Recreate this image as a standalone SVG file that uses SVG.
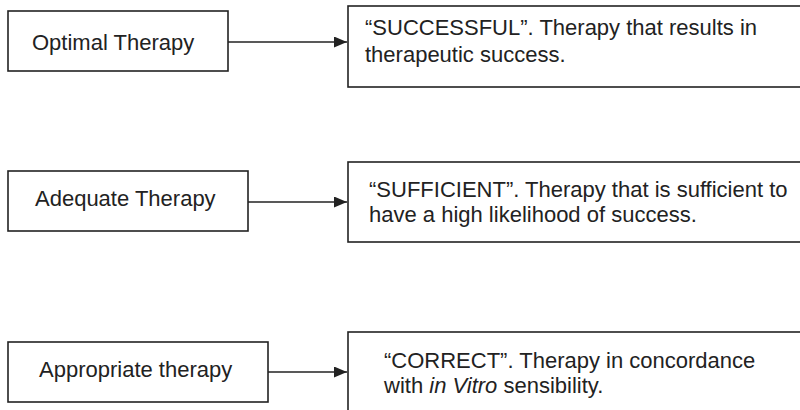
<svg xmlns="http://www.w3.org/2000/svg" width="800" height="410" viewBox="0 0 800 410">
<defs>
<style>
.box{fill:#fff;stroke:#222;stroke-width:1.6}
.t{font-family:"Liberation Sans",Arial,sans-serif;font-size:22px;fill:#222}
.c{stroke:#222;stroke-width:1.6;fill:none}
</style>
<marker id="ah" viewBox="0 0 13 11" refX="13" refY="5.5" markerWidth="13" markerHeight="11" markerUnits="userSpaceOnUse" orient="auto">
<path d="M0,0 L13,5.5 L0,11 z" fill="#222"/>
</marker>
</defs>
<rect width="800" height="410" fill="#fff"/>
<g id="optimal"><rect class="box" x="8" y="11" width="220" height="60"/><text class="t" x="32" y="50">Optimal Therapy</text></g>
<g id="successful"><rect class="box" x="348" y="6" width="470" height="81"/><text class="t" x="365" y="35">“SUCCESSFUL”. Therapy that results in</text><text class="t" x="365" y="62">therapeutic success.</text></g>
<g id="adequate"><rect class="box" x="8" y="171" width="240" height="60"/><text class="t" x="35" y="206">Adequate Therapy</text></g>
<g id="sufficient"><rect class="box" x="348" y="162" width="470" height="80"/><text class="t" x="369" y="197">“SUFFICIENT”. Therapy that is sufficient to</text><text class="t" x="369" y="222">have a high likelihood of success.</text></g>
<g id="appropriate"><rect class="box" x="8" y="342" width="260" height="60"/><text class="t" x="39" y="377">Appropriate therapy</text></g>
<g id="correct"><rect class="box" x="348" y="332" width="470" height="100"/><text class="t" x="384" y="368">“CORRECT”. Therapy in concordance</text><text class="t" x="384" y="393">with <tspan font-style="italic">in Vitro</tspan> sensibility.</text></g>
<g id="connectors">
<line class="c" x1="228" y1="42" x2="347" y2="42" marker-end="url(#ah)"/>
<line class="c" x1="248" y1="202" x2="347" y2="202" marker-end="url(#ah)"/>
<line class="c" x1="268" y1="372" x2="347" y2="372" marker-end="url(#ah)"/>
</g>
</svg>
